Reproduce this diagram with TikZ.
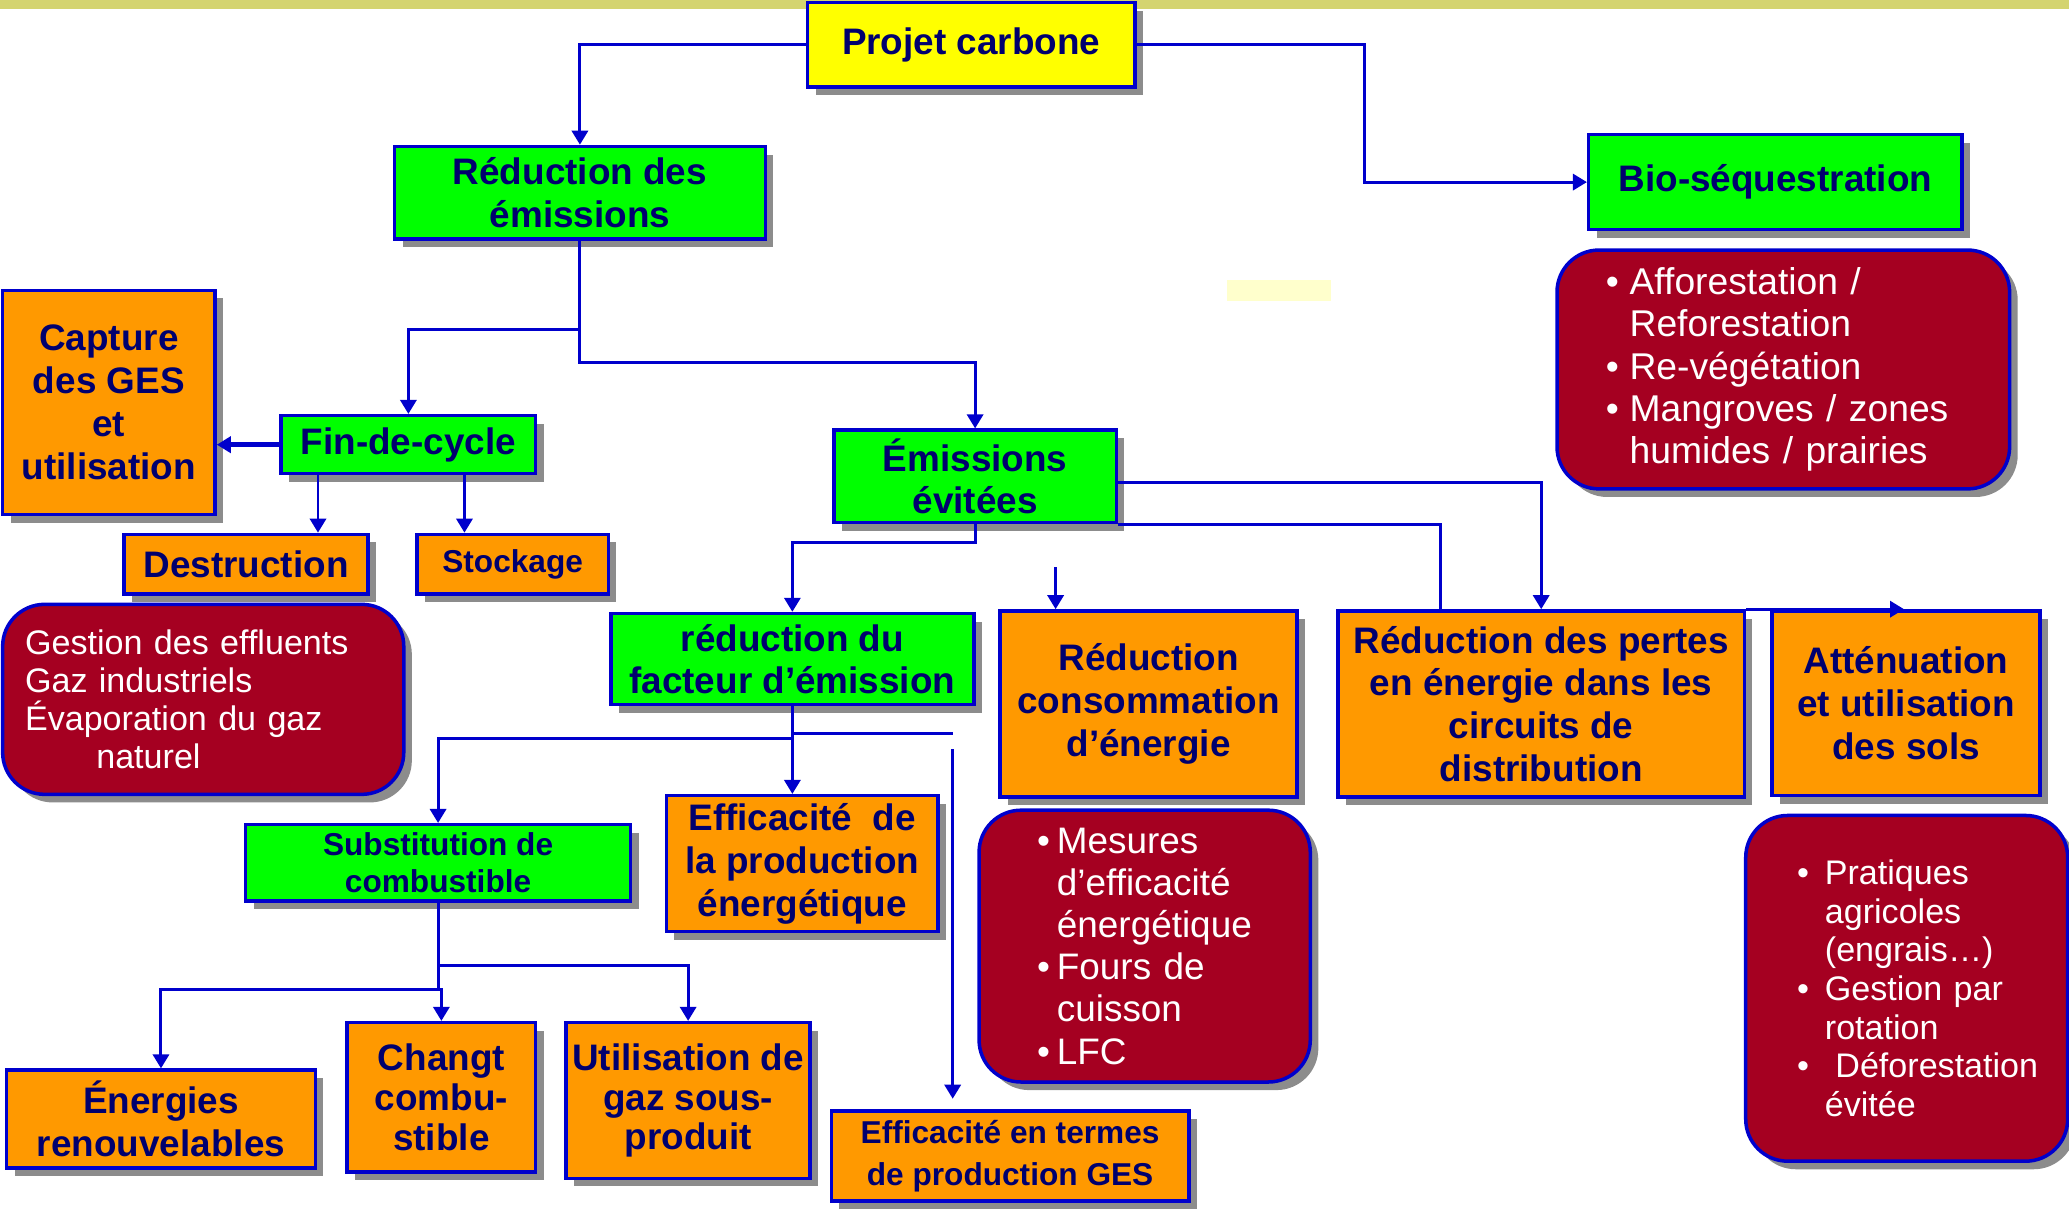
\documentclass[tikz,border=0pt]{standalone}
\usepackage{fontspec}
\setmainfont{Liberation Sans}
\usepackage{xcolor}
\usetikzlibrary{positioning, calc, arrows.meta, shadows}

\definecolor{bordblue}{HTML}{0000CC}
\definecolor{linkblue}{HTML}{0000CC}
\definecolor{navytext}{HTML}{00006E}
\definecolor{boxgreen}{HTML}{00FF00}
\definecolor{boxorange}{HTML}{FF9900}
\definecolor{projyellow}{HTML}{FFFF00}
\definecolor{listred}{HTML}{A50021}
\definecolor{shadowgray}{HTML}{8C8C8C}
\definecolor{topband}{HTML}{D4D470}
\definecolor{paleyellow}{HTML}{FFFFCC}

\newdimen\pxu
\pxu=0.013195cm
\newcommand{\bul}[1]{\makebox[#1\pxu][l]{\textbullet}}
\newcommand{\ind}[1]{\hspace*{#1\pxu}}

\tikzset{
    box/.style={draw=bordblue, line width=1pt, text=navytext, align=center, inner sep=0pt,
        font=\fontsize{10.5}{12.2}\selectfont\bfseries,
        drop shadow={shadow xshift=2.3pt, shadow yshift=-2.3pt, fill=shadowgray, opacity=1}},
    greenbox/.style={box, fill=boxgreen},
    orangebox/.style={box, fill=boxorange},
    listbox/.style={box, fill=listred, text=white, align=left, rounded corners=0.42cm,
        font=\fontsize{10.5}{12}\selectfont, execute at begin node={\hyphenpenalty=10000 \hbadness=10000 \hfuzz=40pt}},
    link/.style={draw=linkblue, line width=0.85pt},
    arr/.style={link, -{Triangle[length=4pt, width=4.6pt]}},
}

\begin{document}
\begin{tikzpicture}[x=0.013195cm, y=-0.013195cm]

    \useasboundingbox (0,0) rectangle (1568,917);

    % --- Background ---
    \fill[topband] (0,0) rectangle (1568,6.5);
    \fill[paleyellow] (930,212) rectangle (1009,228);

    % --- Top level ---
    \node[box, fill=projyellow, minimum width=248\pxu, minimum height=64\pxu] (proj) at (736,34) {Projet carbone};
    \node[greenbox, minimum width=281\pxu, minimum height=70\pxu] (red) at (439.5,146) {Réduction des\\émissions};
    \node[greenbox, minimum width=283\pxu, minimum height=72\pxu] (bio) at (1345.5,138) {Bio-séquestration};
    \node[listbox, minimum width=343\pxu, minimum height=181\pxu, text width=269\pxu, inner xsep=37\pxu,
        font=\fontsize{10.6}{12}\selectfont] (biol) at (1351.5,280)
        {\bul{18}Afforestation /\\\ind{18}Reforestation\\\bul{18}Re-végétation\\\bul{18}Mangroves / zones\\\ind{18}humides / prairies};

    % --- Fin-de-cycle branch ---
    \node[orangebox, minimum width=161\pxu, minimum height=170\pxu] (capt) at (82.5,305) {Capture\\des GES\\et\\utilisation};
    \node[greenbox, minimum width=193\pxu, minimum height=44\pxu] (fin) at (309.5,337) {Fin-de-cycle};
    \node[orangebox, minimum width=185\pxu, minimum height=45\pxu] (dest) at (186.5,427.5) {Destruction};
    \node[orangebox, minimum width=145\pxu, minimum height=45\pxu, font=\fontsize{9}{11}\selectfont\bfseries] (stock) at (388.5,427.5) {Stockage};
    \node[listbox, minimum width=304\pxu, minimum height=144\pxu, text width=270\pxu, inner xsep=17\pxu,
        font=\fontsize{9.7}{10.9}\selectfont] (gestl) at (154,530)
        {Gestion des effluents\\Gaz industriels\\Évaporation du gaz\\\ind{54}naturel};

    % --- Emissions evitees branch ---
    \node[greenbox, minimum width=214\pxu, minimum height=70\pxu] (evit) at (739,361) {Émissions\\évitées};
    \node[greenbox, minimum width=275\pxu, minimum height=69\pxu] (rfe) at (600.5,499.5) {réduction du\\facteur d’émission};
    \node[orangebox, minimum width=225\pxu, minimum height=141\pxu] (cons) at (870.5,533.5) {Réduction\\consommation\\d’énergie};
    \node[orangebox, minimum width=308\pxu, minimum height=141\pxu] (pert) at (1168,533.5) {Réduction des pertes\\en énergie dans les\\circuits de\\distribution};
    \node[orangebox, minimum width=203\pxu, minimum height=140\pxu] (att) at (1444.5,533) {Atténuation\\et utilisation\\des sols};
    \node[listbox, minimum width=251\pxu, minimum height=206\pxu, text width=163\pxu, inner xsep=44\pxu] (mesl) at (867.5,717)
        {\bul{15}Mesures\\\ind{15}d’efficacité\\\ind{15}énergétique\\\bul{15}Fours de\\\ind{15}cuisson\\\bul{15}LFC};
    \node[listbox, minimum width=244\pxu, minimum height=262\pxu, text width=166\pxu, inner xsep=39\pxu,
        font=\fontsize{9.7}{11}\selectfont] (pratl) at (1445,749)
        {\bul{21}Pratiques\\\ind{21}agricoles\\\ind{21}(engrais…)\\\bul{21}Gestion par\\\ind{21}rotation\\\bul{29}Déforestation\\\ind{21}évitée};

    % --- Facteur d'emission branch ---
    \node[greenbox, minimum width=292\pxu, minimum height=58\pxu, font=\fontsize{9}{10.5}\selectfont\bfseries] (subst) at (332,654) {Substitution de\\combustible};
    \node[orangebox, minimum width=206\pxu, minimum height=103\pxu] (effp) at (608,654.5) {Efficacité~ de\\la production\\énergétique};
    \node[orangebox, minimum width=234\pxu, minimum height=74\pxu] (ener) at (122,848) {Énergies\\renouvelables};
    \node[orangebox, minimum width=143\pxu, minimum height=113\pxu, font=\fontsize{10.5}{11.3}\selectfont\bfseries] (chg) at (334.5,831.5) {Changt\\combu-\\stible};
    \node[orangebox, minimum width=185\pxu, minimum height=118\pxu, font=\fontsize{10.5}{11.3}\selectfont\bfseries] (util) at (521.5,834) {Utilisation de\\gaz sous-\\produit};
    \node[orangebox, minimum width=271\pxu, minimum height=68\pxu, font=\fontsize{9}{12}\selectfont\bfseries] (effg) at (765.5,876) {Efficacité en termes\\de production GES};

    % --- Connectors ---
    \coordinate (kbio) at (1034,138);
    \draw[arr] (proj.west) -| (red.north);
    \draw[arr] (proj.east) -| (kbio) -- (bio.west);

    \coordinate (kr1) at (439.5,250);
    \coordinate (kr2) at (439.5,275);
    \draw[arr] (red.south) -- (kr2) -| (evit.north);
    \draw[arr] (kr1) -| (fin.north);

    \draw[arr, line width=1.4pt] (fin.west) -- (fin.west -| capt.east);
    \draw[arr] (fin.south -| 241,0) -- (dest.north -| 241,0);
    \draw[arr] (fin.south -| 352,0) -- (stock.north -| 352,0);

    \coordinate (ke) at (739,411);
    \draw[arr] (evit.south) -- (ke) -| (rfe.north);
    \draw[arr] (evit.east |- 0,366) -| (pert.north);
    \draw[link] (evit.south east) -| (pert.north -| 1092,0);
    \coordinate (kc) at (800,430);
    \draw[arr] (kc) -- (cons.north -| kc);
    \draw[arr] (pert.north east) -- (att.north -| 1443,0);

    \coordinate (kf1) at (600.5,560);
    \coordinate (kf2) at (600.5,556);
    \coordinate (kf3) at (722,556);
    \coordinate (kg) at (722,568);
    \draw[arr] (rfe.south) -- (kf1) -| (subst.north);
    \draw[arr] (rfe.south) -- (effp.north -| rfe.south);
    \draw[link] (kf2) -- (kf3);
    \draw[arr] (kg) -- ([yshift=3pt]effg.north -| kg);

    \coordinate (ks1) at (332,732);
    \coordinate (ks2) at (332,750);
    \draw[link] (subst.south) -- (ks2);
    \draw[arr] (ks2) -| (ener.north);
    \draw[arr] (ks2) -| (chg.north);
    \draw[arr] (ks1) -| (util.north);

\end{tikzpicture}
\end{document}
